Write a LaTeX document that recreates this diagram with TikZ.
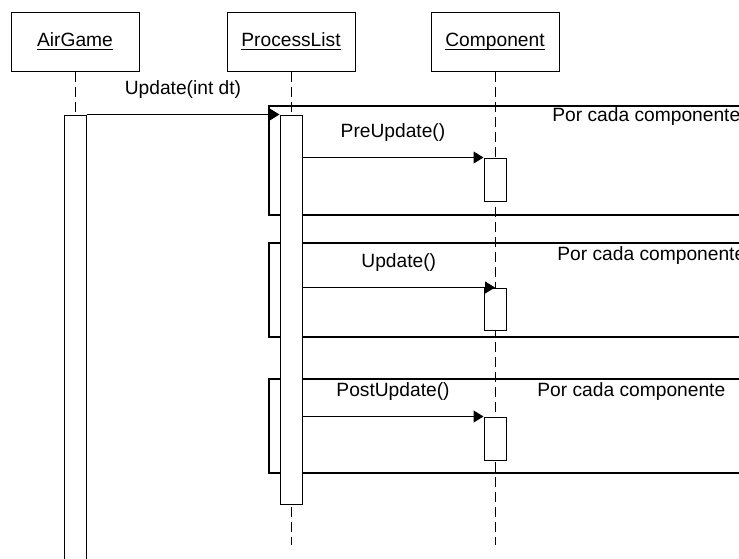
\documentclass[tikz,border=0pt]{standalone}
\usepackage{fontspec}
\setmainfont{Liberation Sans}
\usetikzlibrary{arrows.meta}
\newcommand{\objname}[1]{\underline{\raisebox{0pt}[\height][0pt]{#1}}}
\begin{document}
\begin{tikzpicture}[x=0.5pt, y=-0.5pt]
\tikzset{ >={Triangle[length=5pt,width=6pt]}, font=\fontsize{9.6}{11.5}\selectfont,
  head/.style={draw, line width=0.5pt, fill=white, minimum width=64pt, minimum height=29.5pt, inner sep=0pt},
  act/.style={draw, line width=0.5pt, fill=white, minimum width=11pt, inner sep=0pt},
  life/.style={line width=0.5pt, dash pattern=on 5pt off 2.5pt},
  msg/.style={->, line width=0.5pt},
  frame/.style={line width=0.8pt},
  lbl/.style={inner sep=0pt, midway, yshift=12.5pt},
}
\useasboundingbox (0,0) rectangle (739,558);
\clip (0,0) rectangle (739,558);

%\draw [lightgray, dashed](0,0) grid (739,558);

\node [head] (AG) at (75,41.5)  {\objname{AirGame}};
\node [head] (PL) at (291,41.5) {\objname{ProcessList}};
\node [head] (CO) at (495,41.5) {\objname{Component}};

\coordinate (PLend) at (291,545);
\coordinate (COend) at (495,545);

\draw [life] (CO) -- (COend);
\draw [life] (PL) -- (PLend);

% frames "Por cada componente"
\draw [frame] (269,106) rectangle (760,215);
\draw [frame] (269,243) rectangle (760,337);
\draw [frame] (269,379) rectangle (760,473);

\node [act, minimum height=227.5pt] (AGact) at (75,342.5) {};
\node [act, minimum height=194.5pt] (PLact) at (291,309.5) {};
\node [act, minimum height=21.5pt]  (C1) at (495,179.5) {};
\node [act, minimum height=21pt]    (C2) at (495,309)   {};
\node [act, minimum height=21.5pt]  (C3) at (495,438.5) {};

\draw [life] (AG) -- (AGact);

\draw [msg] (AGact.north east) -- node[lbl] {Update(int dt)} (PLact.north west);
\draw [msg] (PLact.east |- C1.north west) -- node[lbl] {PreUpdate()} (C1.north west);
\draw [msg] (PLact.east |- C2.north) -- node[lbl] {Update()} (C2.north);
\draw [msg] (PLact.east |- C3.north west) -- node[lbl] {PostUpdate()} (C3.north west);

\node [anchor=west, inner sep=0pt] (T1) at (552,116.5) {Por cada componente};
\node [anchor=west, inner sep=0pt] (T2) at (557,255.5) {Por cada componente};
\node [anchor=west, inner sep=0pt] (T3) at (537,392)   {Por cada componente};

\end{tikzpicture}
\end{document}
